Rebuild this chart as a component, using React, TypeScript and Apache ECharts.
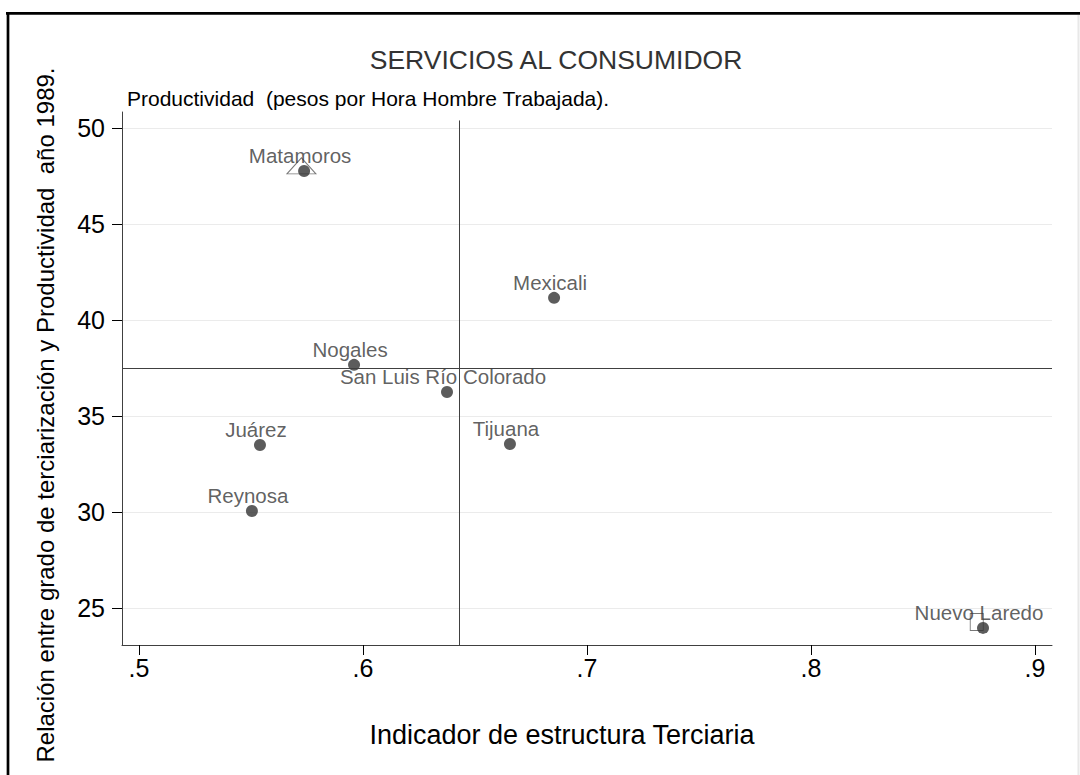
import React, { useEffect, useRef } from "react";
import * as echarts from "echarts";

// ---- data ----
const cities = [
  "Matamoros",
  "Mexicali",
  "Nogales",
  "San Luis Río Colorado",
  "Juárez",
  "Tijuana",
  "Reynosa",
  "Nuevo Laredo",
];
const terciaria = [0.5737, 0.6853, 0.596, 0.6375, 0.554, 0.6656, 0.5504, 0.8768];
const productividad = [47.76, 41.15, 37.66, 36.25, 33.49, 33.54, 30.05, 23.96];

const triangleX = [0.5725];
const triangleY = [48.02];
const squareX = [0.874];
const squareY = [24.27];

const xTicks = [0.5, 0.6, 0.7, 0.8, 0.9];
const yTicks = [25, 30, 35, 40, 45, 50];

const meanX = 0.6429;
const meanY = 37.5;
const meanXLineTop = 50.39;

const xMin = 0.4924;
const xMax = 0.9076;
const yMin = 23.07;
const yMax = 50.83;

const titleText = "SERVICIOS AL CONSUMIDOR";
const subtitleText = "Productividad  (pesos por Hora Hombre Trabajada).";
const xName = "Indicador de estructura Terciaria";
const yName = "Relación entre grado de terciarización y Productividad  año 1989.";

const FONT = "Liberation Sans, Arial, Helvetica, sans-serif";

export default function App() {
  const ref = useRef<HTMLDivElement>(null);

  useEffect(() => {
    if (!ref.current) return;
    const chart = echarts.init(ref.current, undefined, { renderer: "svg" });

    const points = cities.map((c, i) => ({ name: c, value: [terciaria[i], productividad[i]] }));

    chart.setOption({
      animation: false,
      backgroundColor: "#ffffff",
      textStyle: { fontFamily: FONT },
      title: [
        {
          text: titleText,
          left: 551,
          top: 41,
          textAlign: "center",
          textStyle: { fontFamily: FONT, fontSize: 26.5, fontWeight: "normal", color: "#333333" },
        },
        {
          text: subtitleText,
          left: 122,
          top: 83,
          textStyle: { fontFamily: FONT, fontSize: 21, fontWeight: "normal", color: "#000000" },
        },
      ],
      grid: { left: 122, top: 112, right: 28, bottom: 130, containLabel: false },
      xAxis: {
        type: "value",
        min: xMin,
        max: xMax,
        axisLine: { show: true, lineStyle: { color: "#404040", width: 1 } },
        axisTick: {
          show: true,
          length: 10,
          customValues: xTicks,
          lineStyle: { color: "#000000", width: 1 },
        },
        axisLabel: {
          customValues: xTicks,
          margin: 10,
          fontFamily: FONT,
          fontSize: 25,
          color: "#000000",
          formatter: (v: number) => String(Math.round(v * 10) / 10).replace(/^0/, ""),
        },
        splitLine: { show: false },
      },
      yAxis: {
        type: "value",
        min: yMin,
        max: yMax,
        axisLine: { show: true, lineStyle: { color: "#404040", width: 1 } },
        axisTick: {
          show: true,
          length: 10,
          customValues: yTicks,
          lineStyle: { color: "#000000", width: 1 },
        },
        axisLabel: {
          customValues: yTicks,
          margin: 17,
          fontFamily: FONT,
          fontSize: 25,
          color: "#000000",
        },
        splitLine: { show: true, lineStyle: { color: "#ebebeb", width: 1 } },
      },
      graphic: [
        { type: "line", shape: { x1: 6, y1: 13.3, x2: 1080, y2: 13.3 }, style: { stroke: "#000000", lineWidth: 2.7 } },
        { type: "line", shape: { x1: 8, y1: 12, x2: 8, y2: 775 }, style: { stroke: "#000000", lineWidth: 2.7 } },
        { type: "line", shape: { x1: 1078.5, y1: 15, x2: 1078.5, y2: 775 }, style: { stroke: "#e8e8e8", lineWidth: 2 } },
        {
          type: "text",
          x: 45,
          y: 415,
          rotation: Math.PI / 2,
          style: {
            text: yName,
            fontFamily: FONT,
            fontSize: 24,
            fill: "#000000",
            align: "center",
            verticalAlign: "middle",
          },
        },
        {
          type: "text",
          x: 562,
          y: 735,
          style: {
            text: xName,
            fontFamily: FONT,
            fontSize: 27,
            fill: "#000000",
            align: "center",
            verticalAlign: "middle",
          },
        },
      ],
      series: [
        {
          type: "scatter",
          name: "triangle",
          data: triangleX.map((x, i) => [x, triangleY[i]]),
          symbol: "triangle",
          symbolSize: [29, 16],
          itemStyle: { color: "#ffffff", borderColor: "#555555", borderWidth: 1 },
          silent: true,
          z: 2,
        },
        {
          type: "scatter",
          name: "square",
          data: squareX.map((x, i) => [x, squareY[i]]),
          symbol: "rect",
          symbolSize: [13, 17],
          itemStyle: { color: "#ffffff", borderColor: "#555555", borderWidth: 1 },
          silent: true,
          z: 2,
        },
        {
          type: "scatter",
          name: "ciudades",
          data: points,
          symbol: "circle",
          symbolSize: 12,
          itemStyle: { color: "#333333" },
          label: {
            show: true,
            position: "inside",
            offset: [-4, -15],
            formatter: "{b}",
            fontFamily: FONT,
            fontSize: 20.5,
            color: "#383838",
            textBorderWidth: 0,
          },
          z: 4,
          markLine: {
            silent: true,
            symbol: "none",
            label: { show: false },
            lineStyle: { color: "#404040", width: 1, type: "solid" },
            data: [
              { yAxis: meanY },
              [
                { coord: [meanX, meanXLineTop] },
                { coord: [meanX, yMin] },
              ],
            ],
          },
        },
      ],
    });

    return () => chart.dispose();
  }, []);

  return (
    <div
      ref={ref}
      style={{ position: "absolute", left: 0, top: 0, width: 1080, height: 775 }}
    />
  );
}
